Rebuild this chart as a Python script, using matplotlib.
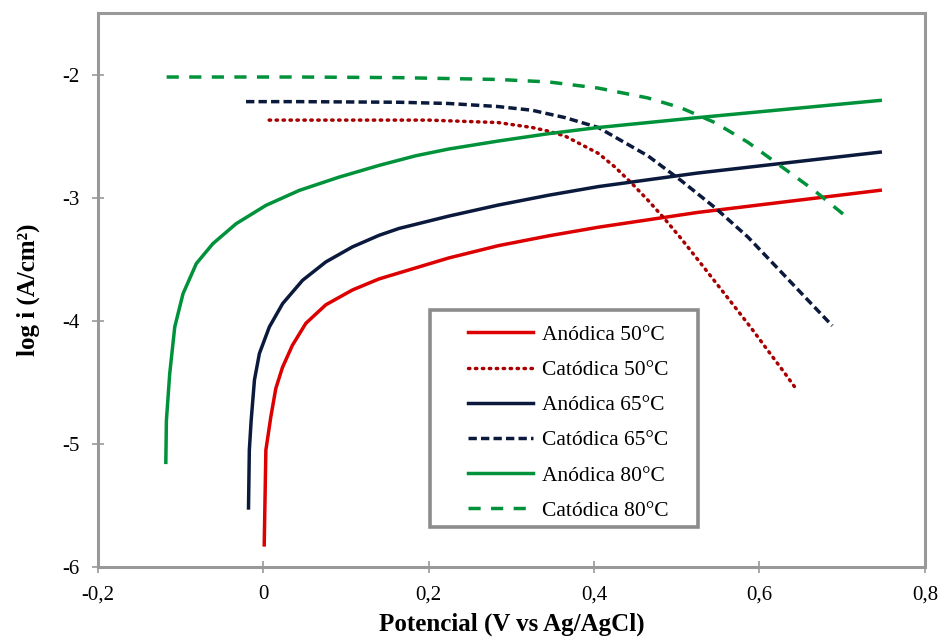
import matplotlib
matplotlib.use("Agg")
import matplotlib.pyplot as plt
from matplotlib.patches import Rectangle
from matplotlib.ticker import FuncFormatter

plt.rcParams['font.family'] = ['Liberation Serif', 'DejaVu Serif']

# anodic branches (E in V, log i)
an50_x = [0.001, 0.003, 0.009, 0.015, 0.023, 0.035, 0.0514, 0.0755, 0.1076, 0.1398, 0.224, 0.284, 0.345, 0.405, 0.525, 0.746]
an50_y = [-5.82, -5.05, -4.78, -4.55, -4.38, -4.20, -4.02, -3.87, -3.75, -3.66, -3.49, -3.39, -3.31, -3.24, -3.12, -2.94]
an65_x = [-0.018, -0.017, -0.0148, -0.0108, -0.0048, 0.0072, 0.0233, 0.0474, 0.0755, 0.1076, 0.1398, 0.164, 0.224, 0.284, 0.345, 0.405, 0.525, 0.746]
an65_y = [-5.52, -5.05, -4.81, -4.48, -4.265, -4.05, -3.86, -3.671, -3.522, -3.40, -3.306, -3.25, -3.15, -3.06, -2.98, -2.91, -2.80, -2.63]
an80_x = [-0.118, -0.1173, -0.1133, -0.1072, -0.0972, -0.0811, -0.061, -0.0329, 0.0032, 0.0434, 0.0916, 0.1398, 0.184, 0.224, 0.284, 0.345, 0.405, 0.525, 0.746]
an80_y = [-5.15, -4.81, -4.43, -4.05, -3.78, -3.535, -3.373, -3.211, -3.062, -2.941, -2.833, -2.738, -2.66, -2.605, -2.54, -2.48, -2.43, -2.35, -2.21]

# cathodic branches
ca50_x = [0.007, 0.2, 0.284, 0.325, 0.345, 0.365, 0.385, 0.405, 0.425, 0.445, 0.465, 0.485, 0.505, 0.525, 0.546, 0.567, 0.589, 0.610, 0.630, 0.645]
ca50_y = [-2.37, -2.37, -2.39, -2.43, -2.46, -2.50, -2.57, -2.64, -2.75, -2.88, -3.02, -3.17, -3.33, -3.50, -3.68, -3.86, -4.05, -4.24, -4.42, -4.56]
ca65_x = [-0.021, 0.043, 0.164, 0.224, 0.284, 0.325, 0.365, 0.405, 0.465, 0.505, 0.546, 0.586, 0.625, 0.666, 0.688]
ca65_y = [-2.22, -2.22, -2.225, -2.235, -2.26, -2.29, -2.35, -2.43, -2.66, -2.86, -3.08, -3.32, -3.595, -3.885, -4.04]
ca80_x = [-0.117, 0.043, 0.164, 0.284, 0.345, 0.405, 0.465, 0.505, 0.546, 0.586, 0.625, 0.666, 0.706]
ca80_y = [-2.02, -2.02, -2.025, -2.04, -2.06, -2.11, -2.19, -2.27, -2.39, -2.55, -2.74, -2.94, -3.16]

red = '#dd0000'
dred = '#a80000'
navy = '#0b1a3c'
green = '#00923a'

fig = plt.figure(figsize=(9.38, 6.4), dpi=100)
ax = fig.add_axes([0.1045, 0.114, 0.8815, 0.8657])

ax.plot(an50_x, an50_y, color=red, lw=2.5, label='Anódica 50°C')
ax.plot(ca50_x, ca50_y, color=dred, lw=2.5, ls=(0, (0.4, 1.6)), dash_capstyle='round', label='Catódica 50°C')
ax.plot(an65_x, an65_y, color=navy, lw=2.5, label='Anódica 65°C')
ax.plot(ca65_x, ca65_y, color=navy, lw=2.5, ls=(0, (2.4, 1.2)), label='Catódica 65°C')
ax.plot(an80_x, an80_y, color=green, lw=2.5, label='Anódica 80°C')
ax.plot(ca80_x, ca80_y, color=green, lw=2.5, ls=(0, (3.5, 3.0)), label='Catódica 80°C')

ax.set_xlim(-0.2, 0.8)
ax.set_ylim(-6, -1.5)
ax.set_xticks([-0.2, 0, 0.2, 0.4, 0.6, 0.8])
ax.set_yticks([-6, -5, -4, -3, -2])
ax.xaxis.set_major_formatter(FuncFormatter(lambda v, p: ('%g' % round(v, 1)).replace('.', ',')))
ax.yaxis.set_major_formatter(FuncFormatter(lambda v, p: '%d' % v))
ax.tick_params(direction='inout', length=8, width=1.2, color='#999999', labelsize=15)
ax.tick_params(axis='x', pad=9)
ax.tick_params(axis='y', pad=9)

for s in ax.spines.values():
    s.set_color('#999999')
    s.set_linewidth(2.2)

ax.set_xlabel('Potencial (V vs Ag/AgCl)', fontsize=18, fontweight='bold', labelpad=6)
ax.set_ylabel('log i (A/cm²)', fontsize=18, fontweight='bold', labelpad=16)

# legend frame drawn separately (wider side padding than the library allows)
ax.add_patch(Rectangle((0.4015, 0.0722), 0.324, 0.392, transform=ax.transAxes,
                       fill=False, edgecolor='#8c8c8c', lw=2.6, zorder=5))
ax.legend(loc='upper left', bbox_to_anchor=(0.4475, 0.437), fontsize=15.5, frameon=False,
          handlelength=3.0, handletextpad=0.42, labelspacing=0.7,
          borderpad=0, borderaxespad=0)

fig.savefig('out.png', dpi=100)
